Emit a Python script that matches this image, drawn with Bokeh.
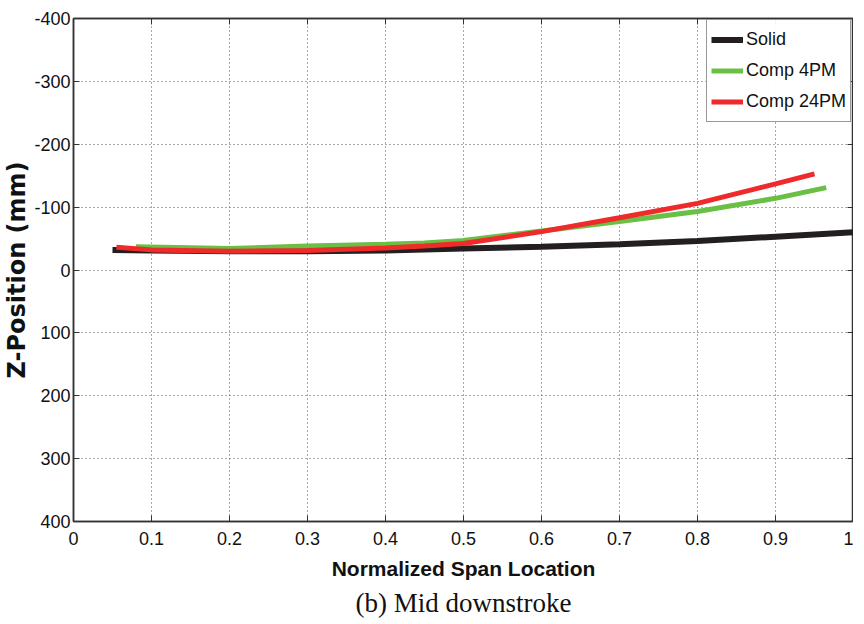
from bokeh.plotting import figure
from bokeh.models import Range1d, LinearAxis, FixedTicker, Legend, LegendItem, Title
from bokeh.embed import file_html
from bokeh.resources import INLINE

solid_x = [0.05, 0.1, 0.2, 0.3, 0.4, 0.5, 0.6, 0.7, 0.8, 0.9, 1.0]
solid_z = [-32, -31, -30, -30, -31, -34, -37, -41, -46, -53, -60]
comp4_x = [0.08, 0.2, 0.3, 0.4, 0.45, 0.5, 0.6, 0.7, 0.8, 0.9, 0.965]
comp4_z = [-37, -34, -38, -41, -43, -47, -62, -77, -93, -114, -131]
comp24_x = [0.055, 0.1, 0.2, 0.3, 0.4, 0.45, 0.5, 0.6, 0.7, 0.8, 0.9, 0.95]
comp24_z = [-36, -32, -30, -31, -35, -38, -42, -61, -83, -106, -137, -153]

x_ticks = [0, 0.1, 0.2, 0.3, 0.4, 0.5, 0.6, 0.7, 0.8, 0.9, 1]
x_tick_labels = ["0", "0.1", "0.2", "0.3", "0.4", "0.5", "0.6", "0.7", "0.8", "0.9", "1"]
y_ticks = [-400, -300, -200, -100, 0, 100, 200, 300, 400]
y_tick_labels = ["-400", "-300", "-200", "-100", "0", "100", "200", "300", "400"]

SANS = "'Liberation Sans', Arial, sans-serif"
WIDE = "'DejaVu Sans', sans-serif"

p = figure(output_backend="svg", toolbar_location=None,
           frame_width=780, frame_height=503,
           min_border_left=69, min_border_top=18, min_border_bottom=80, min_border_right=0,
           x_range=Range1d(0, 1), y_range=Range1d(400, -400))
p.background_fill_color = "white"
p.border_fill_color = "white"
p.outline_line_color = "#333333"
p.outline_line_width = 1.5

for ax in (p.xaxis[0], p.yaxis[0]):
    ax.major_tick_in = 6
    ax.major_tick_out = 0
    ax.minor_tick_in = 0
    ax.minor_tick_out = 0
    ax.axis_line_color = "#333333"
    ax.axis_line_width = 1.5
    ax.major_tick_line_color = "#333333"
    ax.major_label_text_font = SANS
    ax.major_label_text_font_size = "18px"
    ax.major_label_text_color = "#111111"
    ax.axis_label_text_color = "#111111"
    ax.axis_label_text_font_style = "bold"

p.xaxis.ticker = FixedTicker(ticks=x_ticks)
p.xaxis.major_label_overrides = dict(zip(x_ticks, x_tick_labels))
p.xaxis.major_label_standoff = 10
p.xaxis.axis_label = "Normalized Span Location"
p.xaxis.axis_label_text_font = SANS
p.xaxis.axis_label_text_font_size = "21px"
p.xaxis.axis_label_standoff = 9
p.yaxis.ticker = FixedTicker(ticks=y_ticks)
p.yaxis.major_label_overrides = dict(zip(y_ticks, y_tick_labels))
p.yaxis.major_label_standoff = 3
p.yaxis.axis_label = "Z-Position (mm)"
p.yaxis.axis_label_text_font = WIDE
p.yaxis.axis_label_text_font_size = "24px"
p.yaxis.axis_label_standoff = 0

for loc, tk in (("right", y_ticks), ("above", x_ticks)):
    a = LinearAxis(ticker=FixedTicker(ticks=tk), major_label_text_font_size="1px",
                   major_label_text_color=None,
                   major_label_standoff=0, major_tick_in=6, major_tick_out=0,
                   minor_tick_in=0, minor_tick_out=0, axis_line_color="#333333",
                   axis_line_width=1.5, major_tick_line_color="#333333")
    p.add_layout(a, loc)

p.xgrid.ticker = FixedTicker(ticks=x_ticks)
p.ygrid.ticker = FixedTicker(ticks=y_ticks)
for g in (p.xgrid[0], p.ygrid[0]):
    g.grid_line_color = "#555555"
    g.grid_line_dash = "1 3"
    g.grid_line_width = 1

r1 = p.line(solid_x, solid_z, line_color="#231f20", line_width=6)
r2 = p.line(comp4_x, comp4_z, line_color="#6abf45", line_width=5)
r3 = p.line(comp24_x, comp24_z, line_color="#ee2a2a", line_width=5)

legend = Legend(items=[LegendItem(label="Solid", renderers=[r1]),
                       LegendItem(label="Comp 4PM", renderers=[r2]),
                       LegendItem(label="Comp 24PM", renderers=[r3])],
                location=(633, 399))
legend.label_text_font = SANS
legend.label_text_font_size = "18px"
legend.label_text_color = "#111111"
legend.border_line_color = "#333333"
legend.border_line_width = 1
legend.glyph_width = 32
legend.glyph_height = 31
legend.label_height = 31
legend.label_standoff = 3
legend.spacing = 0
legend.padding = 4
legend.margin = 0
p.add_layout(legend)

cap = Title(text="(b) Mid downstroke", align="center",
            text_font="'Liberation Serif', 'Times New Roman', serif",
            text_font_size="27px", text_font_style="normal", text_color="#111111",
            standoff=6)
p.add_layout(cap, "below")

open("out.html", "w").write(file_html(p, INLINE))
